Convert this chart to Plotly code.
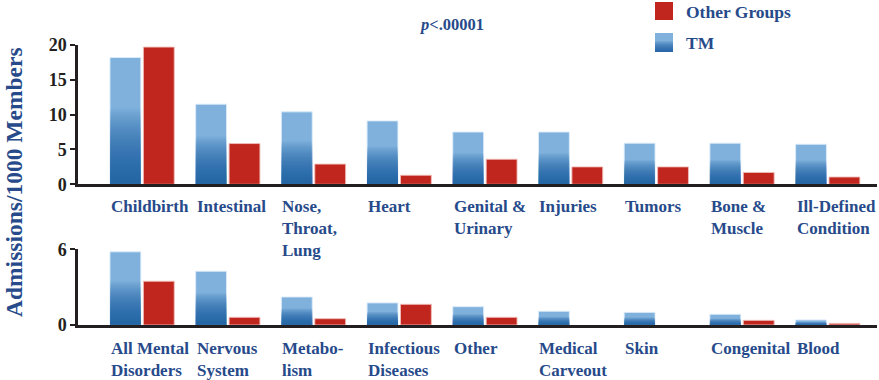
import plotly.graph_objects as go

# ---------------- data ----------------
top_categories = ["Childbirth", "Intestinal", "Nose,<br>Throat,<br>Lung", "Heart",
                  "Genital &amp;<br>Urinary", "Injuries", "Tumors", "Bone &amp;<br>Muscle",
                  "Ill-Defined<br>Condition"]
top_tm = [18.2, 11.5, 10.4, 9.1, 7.5, 7.5, 5.9, 5.9, 5.75]
top_other = [19.7, 5.85, 2.9, 1.3, 3.6, 2.5, 2.5, 1.7, 1.05]

bottom_categories = ["All Mental<br>Disorders", "Nervous<br>System", "Metabo-<br>lism",
                     "Infectious<br>Diseases", "Other", "Medical<br>Carveout", "Skin",
                     "Congenital", "Blood"]
bottom_tm = [5.8, 4.26, 2.22, 1.75, 1.45, 1.09, 1.0, 0.85, 0.4]
bottom_other = [3.47, 0.61, 0.5, 1.64, 0.61, None, None, 0.37, 0.13]

top_ticks = [0, 5, 10, 15, 20]
bottom_ticks = [0, 6]

series_names = ["Other Groups", "TM"]
y_title = "Admissions/1000 Members"
p_text = "<i>p</i>&lt;.00001"

# ---------------- style ----------------
W, H = 879, 380
BLUE_LIGHT = "#7fb1dc"
BLUE_DARK = "rgba(20,85,155,0.045)"
RED = "#c0261e"
NAVY = "#274a8a"
INK = "#231f20"
FONT = "Liberation Serif"

TM_OFF, OT_OFF, BW = -0.375, 0.015, 0.36
N_GRAD = 38

fig = go.Figure()


def add_panel(tm, other, xa, ya):
    xs = list(range(len(tm)))
    fig.add_trace(go.Bar(x=xs, y=tm, offset=TM_OFF, width=BW, xaxis=xa, yaxis=ya,
                         marker=dict(color=BLUE_LIGHT, line=dict(color="rgba(220,235,250,0.9)", width=1)),
                         showlegend=False, hoverinfo="skip"))
    for k in range(1, N_GRAD + 1):
        f = 0.6 * k / N_GRAD
        fig.add_trace(go.Bar(x=xs, y=[v * f for v in tm], offset=TM_OFF, width=BW,
                             xaxis=xa, yaxis=ya,
                             marker=dict(color=BLUE_DARK, line=dict(width=0)),
                             showlegend=False, hoverinfo="skip"))
    fig.add_trace(go.Bar(x=xs, y=other, offset=OT_OFF, width=BW, xaxis=xa, yaxis=ya,
                         marker=dict(color=RED, line=dict(color="rgba(240,190,185,0.9)", width=1)),
                         showlegend=False, hoverinfo="skip"))


add_panel(top_tm, top_other, "x", "y")
add_panel(bottom_tm, bottom_other, "x2", "y2")

xdom = [78 / W, 877 / W]
xrange_ = [-0.748, 8.575]
axis_common = dict(showline=True, linewidth=2.5, linecolor=INK, showgrid=False,
                   zeroline=False, automargin=False)

fig.update_layout(
    width=W, height=H, margin=dict(l=0, r=0, t=0, b=0, pad=0, autoexpand=False),
    paper_bgcolor="white", plot_bgcolor="white",
    barmode="overlay", showlegend=False,
    font=dict(family=FONT, color=INK),
    xaxis=dict(domain=xdom, range=xrange_, anchor="y", showticklabels=False, ticks="", **axis_common),
    yaxis=dict(domain=[1 - 184.3 / H, 1 - 45 / H], range=[0, 20], anchor="x",
               tickvals=top_ticks, ticks="outside", ticklen=5, tickwidth=2, tickcolor=INK,
               tickfont=dict(family=FONT, size=18, color=INK, weight="bold"), **axis_common),
    xaxis2=dict(domain=xdom, range=xrange_, anchor="y2", showticklabels=False, ticks="", **axis_common),
    yaxis2=dict(domain=[1 - 325 / H, 1 - 249.3 / H], range=[0, 6], anchor="x2",
                tickvals=bottom_ticks, ticks="outside", ticklen=5, tickwidth=2, tickcolor=INK,
                tickfont=dict(family=FONT, size=18, color=INK, weight="bold"), **axis_common),
)

lab_font = dict(family=FONT, size=17, color=NAVY, weight="bold")
for i, c in enumerate(top_categories):
    fig.add_annotation(x=i + TM_OFF, y=1 - 196 / H, xref="x", yref="paper", text=c,
                       xanchor="left", yanchor="top", align="left", showarrow=False,
                       font=lab_font, borderpad=0)
for i, c in enumerate(bottom_categories):
    fig.add_annotation(x=i + TM_OFF, y=1 - 338 / H, xref="x2", yref="paper", text=c,
                       xanchor="left", yanchor="top", align="left", showarrow=False,
                       font=lab_font, borderpad=0)

# y-axis title
fig.add_annotation(x=14 / W, y=1 - 182 / H, xref="paper", yref="paper", text=y_title,
                   textangle=-90, showarrow=False, xanchor="center", yanchor="middle",
                   font=dict(family=FONT, size=23.5, color=NAVY, weight="bold"))

# p-value
fig.add_annotation(x=452 / W, y=1 - 25 / H, xref="paper", yref="paper", text=p_text,
                   showarrow=False, xanchor="center", yanchor="middle",
                   font=dict(family=FONT, size=16.5, color=NAVY, weight="bold"))


# manual legend
def px(xp):
    return xp / W


def py(yp):
    return 1 - yp / H


fig.add_shape(type="rect", xref="paper", yref="paper", x0=px(655), x1=px(673), y0=py(20), y1=py(2),
              fillcolor=RED, line=dict(width=0))
fig.add_shape(type="rect", xref="paper", yref="paper", x0=px(655), x1=px(673), y0=py(52), y1=py(33),
              fillcolor=BLUE_LIGHT, line=dict(width=0))
for k in range(1, 12):
    fig.add_shape(type="rect", xref="paper", yref="paper", x0=px(655), x1=px(673),
                  y0=py(52), y1=py(52 - 11 * k / 11),
                  fillcolor="rgba(20,85,155,0.12)", line=dict(width=0))
fig.add_annotation(x=px(684), y=py(12), xref="paper", yref="paper", text=series_names[0],
                   showarrow=False, xanchor="left", yanchor="middle",
                   font=dict(family=FONT, size=17.5, color=NAVY, weight="bold"))
fig.add_annotation(x=px(684), y=py(43), xref="paper", yref="paper", text=series_names[1],
                   showarrow=False, xanchor="left", yanchor="middle",
                   font=dict(family=FONT, size=17.5, color=NAVY, weight="bold"))

fig.write_html("out.html", config={"displayModeBar": False},
               post_script="document.body.style.margin='0';")
